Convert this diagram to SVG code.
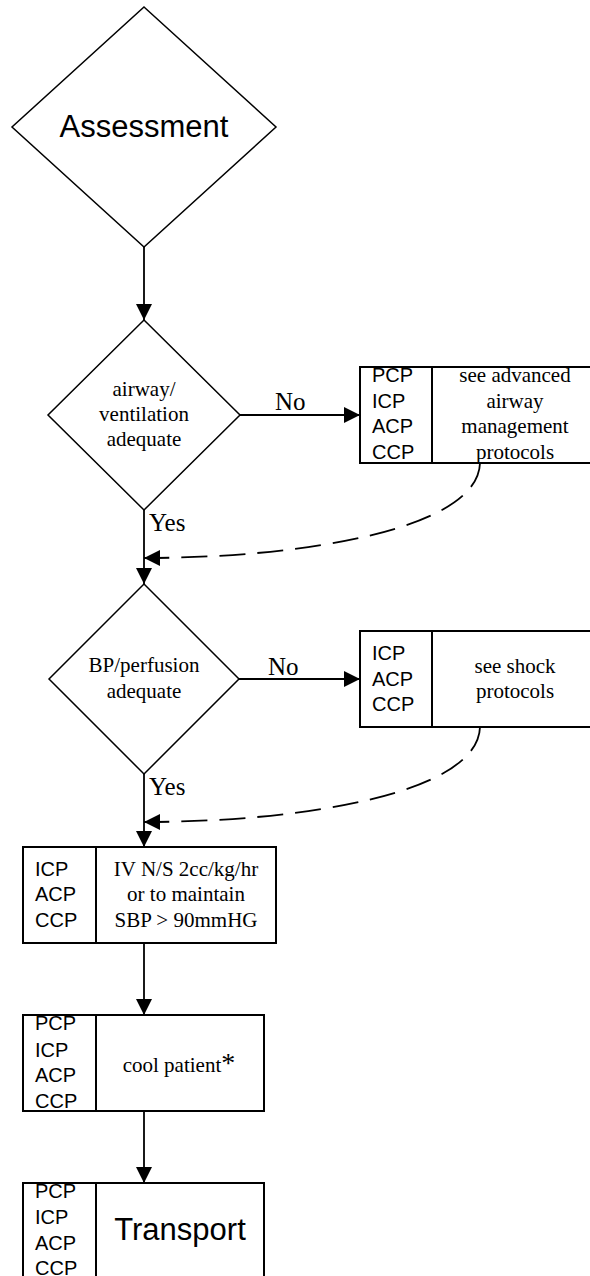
<svg xmlns="http://www.w3.org/2000/svg" width="590" height="1276" viewBox="0 0 590 1276">
<style>
.shape{fill:#fff;stroke:#000;stroke-width:1.5}
.box{fill:#fff;stroke:#000;stroke-width:2}
.line{fill:none;stroke:#000;stroke-width:1.8}
.dash{fill:none;stroke:#000;stroke-width:1.8;stroke-dasharray:26 12}
.sans{font-family:"Liberation Sans",Arial,sans-serif;fill:#000}
.serif{font-family:"Liberation Serif","Times New Roman",serif;fill:#000}
.role{font-size:20px}
.desc{font-size:21px;text-anchor:middle}
.lbl{font-size:25px}
</style>
<defs>
<marker id="arr" markerUnits="userSpaceOnUse" markerWidth="17" markerHeight="17" refX="16" refY="8" orient="auto">
<path d="M0,0 L16,8 L0,16 z" fill="#000"/>
</marker>
</defs>
<g id="connectors">
<path class="line" d="M144 247 V320" marker-end="url(#arr)"/>
<path class="line" d="M240 415 H360" marker-end="url(#arr)"/>
<text class="serif lbl" x="275" y="410">No</text>
<path class="line" d="M144 510 V584" marker-end="url(#arr)"/>
<text class="serif lbl" x="149" y="531">Yes</text>
<path class="dash" d="M480 463 C478 530,300 558,144 558" marker-end="url(#arr)"/>
<path class="line" d="M239 679 H360" marker-end="url(#arr)"/>
<text class="serif lbl" x="268" y="675">No</text>
<path class="line" d="M144 774 V847" marker-end="url(#arr)"/>
<text class="serif lbl" x="149" y="795">Yes</text>
<path class="dash" d="M480 727 C478 794,300 822,144 822" marker-end="url(#arr)"/>
<path class="line" d="M144 943 V1015" marker-end="url(#arr)"/>
<path class="line" d="M144 1111 V1183" marker-end="url(#arr)"/>
</g>
<g id="assessment">
<polygon class="shape" points="144,7 276,127 144,247 12,127"/>
<text class="sans" x="144" y="137" font-size="31" text-anchor="middle">Assessment</text>
</g>
<g id="airway">
<polygon class="shape" points="144,320 240,415 144,510 48,415"/>
<text class="serif desc" x="144" y="396">airway/</text>
<text class="serif desc" x="144" y="421">ventilation</text>
<text class="serif desc" x="144" y="446">adequate</text>
</g>
<g id="airway-box">
<rect class="box" x="360" y="367" width="250" height="96"/>
<line class="box" x1="432" y1="367" x2="432" y2="463"/>
<text class="sans role" x="372" y="382">PCP</text>
<text class="sans role" x="372" y="408">ICP</text>
<text class="sans role" x="372" y="433">ACP</text>
<text class="sans role" x="372" y="459">CCP</text>
<text class="serif desc" x="515" y="382">see advanced</text>
<text class="serif desc" x="515" y="408">airway</text>
<text class="serif desc" x="515" y="433">management</text>
<text class="serif desc" x="515" y="459">protocols</text>
</g>
<g id="perfusion">
<polygon class="shape" points="144,584 239,679 144,774 49,679"/>
<text class="serif desc" x="144" y="672">BP/perfusion</text>
<text class="serif desc" x="144" y="698">adequate</text>
</g>
<g id="shock-box">
<rect class="box" x="360" y="631" width="250" height="96"/>
<line class="box" x1="432" y1="631" x2="432" y2="727"/>
<text class="sans role" x="372" y="660">ICP</text>
<text class="sans role" x="372" y="686">ACP</text>
<text class="sans role" x="372" y="711">CCP</text>
<text class="serif desc" x="515" y="673">see shock</text>
<text class="serif desc" x="515" y="698">protocols</text>
</g>
<g id="iv-box">
<rect class="box" x="23" y="847" width="253" height="96"/>
<line class="box" x1="96" y1="847" x2="96" y2="943"/>
<text class="sans role" x="35" y="876">ICP</text>
<text class="sans role" x="35" y="901">ACP</text>
<text class="sans role" x="35" y="927">CCP</text>
<text class="serif desc" x="186" y="876">IV N/S 2cc/kg/hr</text>
<text class="serif desc" x="186" y="901">or to maintain</text>
<text class="serif desc" x="186" y="927">SBP &gt; 90mmHG</text>
</g>
<g id="cool-box">
<rect class="box" x="23" y="1015" width="241" height="96"/>
<line class="box" x1="96" y1="1015" x2="96" y2="1111"/>
<text class="sans role" x="35" y="1030">PCP</text>
<text class="sans role" x="35" y="1057">ICP</text>
<text class="sans role" x="35" y="1082">ACP</text>
<text class="sans role" x="35" y="1108">CCP</text>
<text class="serif desc" x="179" y="1072">cool patient<tspan font-size="28">*</tspan></text>
</g>
<g id="transport-box">
<rect class="box" x="23" y="1183" width="241" height="110"/>
<line class="box" x1="96" y1="1183" x2="96" y2="1293"/>
<text class="sans role" x="35" y="1198">PCP</text>
<text class="sans role" x="35" y="1224">ICP</text>
<text class="sans role" x="35" y="1250">ACP</text>
<text class="sans role" x="35" y="1275">CCP</text>
<text class="sans" x="180" y="1240" font-size="31" text-anchor="middle">Transport</text>
</g>
</svg>
